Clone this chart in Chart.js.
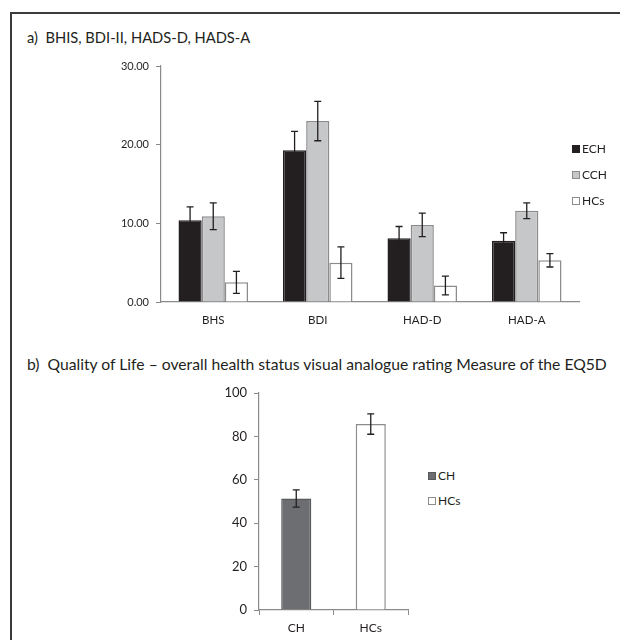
<!DOCTYPE html>
<html>
<head>
<meta charset="utf-8">
<script src="https://cdn.jsdelivr.net/npm/chart.js@4.4.1/dist/chart.umd.min.js"></script>
<style>
    body { margin:0; width:620px; height:640px; overflow:hidden; background:#fff; font-family:Lato, "Liberation Sans", sans-serif; color:#231f20; }
    #frame { position:absolute; left:10px; top:12px; width:700px; height:700px; border:2px solid #3b3b3b; }
    .title { position:absolute; left:27px; white-space:nowrap; line-height:18px; }
    .wrap { position:absolute; }
    .legend { position:absolute; font-size:12px; }
    .lg-row { line-height:14px; white-space:nowrap; }
    .lg-box { display:inline-block; width:6px; height:6px; border:1px solid; margin-right:2px; vertical-align:0px; }
</style>
</head>
<body>
<div id="frame"></div>
<div class="title" id="title_a" style="top:28px; font-size:14.7px;">a)&nbsp; BHIS, BDI-II, HADS-D, HADS-A</div>
<div class="wrap" style="left:100px; top:50px; width:500px; height:280px;"><canvas id="chart_a"></canvas></div>
<div class="legend" id="legend_a" style="left:572px; top:142px;"></div>

<div class="title" id="title_b" style="top:355px; font-size:15.7px;">b)&nbsp; Quality of Life &ndash; overall health status visual analogue rating Measure of the EQ5D</div>
<div class="wrap" style="left:180px; top:375px; width:240px; height:263px;"><canvas id="chart_b"></canvas></div>
<div class="legend" id="legend_b" style="left:428px; top:469px;"></div>

<script>
// a) scale scores
var scaleCats  = [ 'BHS', 'BDI', 'HAD-D', 'HAD-A' ];
var echMeans   = [ 10.4, 19.3, 8.1, 7.8 ];
var echErr     = [ 1.7, 2.4, 1.5, 1.0 ];
var cchMeans   = [ 10.9, 23.0, 9.8, 11.6 ];
var cchErr     = [ 1.7, 2.5, 1.5, 1.0 ];
var hcMeans    = [ 2.5, 5.0, 2.1, 5.3 ];
var hcErr      = [ 1.4, 2.0, 1.2, 0.85 ];
var scaleTicks = [ 0, 10, 20, 30 ];

// b) EQ5D visual analogue rating
var qolCats  = [ 'CH', 'HCs' ];
var qolMeans = [ 51.4, 85.7 ];
var qolErr   = [ 4.0, 4.7 ];
var qolTicks = [ 0, 20, 40, 60, 80, 100 ];

var axisGrey = '#8a8a8a',
    textCol  = '#231f20',
    fontFam  = 'Lato, "Liberation Sans", sans-serif';

// draws mean +/- error whiskers on every bar
var errorBars = {
    id: 'errorBars',
    afterDatasetsDraw: function( chart ){
        var ctx = chart.ctx, y = chart.scales.y;
        chart.data.datasets.forEach( function( ds, di ){
            var meta = chart.getDatasetMeta( di );
            meta.data.forEach( function( bar, i ){
                var v = ds.data[ i ], e = ds.errors[ i ],
                    top = y.getPixelForValue( v + e ),
                    bot = y.getPixelForValue( v - e ),
                    x = bar.x;
                ctx.save();
                ctx.strokeStyle = textCol;
                ctx.lineWidth = 1.3;
                ctx.beginPath();
                ctx.moveTo( x, top ); ctx.lineTo( x, bot );
                ctx.moveTo( x - 3.5, top ); ctx.lineTo( x + 3.5, top );
                ctx.moveTo( x - 3.5, bot ); ctx.lineTo( x + 3.5, bot );
                ctx.stroke();
                ctx.restore();
            } );
        } );
    }
};

function fixedTicks( values ){
    return function( scale ){ scale.ticks = values.map( function( v ){ return { value: v }; } ); };
}

function build_legend( id, items, rowH ){
    var html = '';
    items.forEach( function( it ){
        html += '<div class="lg-row" style="height:'+rowH+'px"><span class="lg-box" style="background:'+it.fill+';border-color:'+it.stroke+'"></span>'+it.text+'</div>';
    } );
    document.getElementById( id ).innerHTML = html;
}

Chart.defaults.font.family = fontFam;
Chart.defaults.color = textCol;

var chartA = new Chart( document.getElementById( 'chart_a' ), {
    type: 'bar',
    data: {
        labels: scaleCats,
        datasets: [
            { label: 'ECH', data: echMeans, errors: echErr, backgroundColor: '#231f20', borderColor: '#231f20', borderWidth: 1.5 },
            { label: 'CCH', data: cchMeans, errors: cchErr, backgroundColor: '#c6c7c8', borderColor: '#8c8c8c', borderWidth: 1.5 },
            { label: 'HCs', data: hcMeans,  errors: hcErr,  backgroundColor: '#ffffff', borderColor: '#8c8c8c', borderWidth: 1.5 }
        ]
    },
    options: {
        responsive: true,
        maintainAspectRatio: false,
        animation: false,
        layout: { padding: { top: 16, right: 21, left: 0, bottom: 0 } },
        datasets: { bar: { barPercentage: 1, categoryPercentage: 0.665 } },
        plugins: { legend: { display: false }, tooltip: { enabled: false } },
        scales: {
            x: {
                grid: { display: true, drawOnChartArea: false, drawTicks: false },
                border: { color: axisGrey, width: 1.2 },
                ticks: { padding: 11, font: { size: 11.5 }, color: textCol },
                afterFit: function( s ){ s.height = 28; }
            },
            y: {
                min: 0, max: 30,
                grid: { drawOnChartArea: false, drawTicks: true, tickLength: 5, color: axisGrey },
                border: { color: axisGrey, width: 1.2 },
                ticks: { padding: 7, font: { size: 11 }, color: textCol, callback: function( v ){ return Number( v ).toFixed( 2 ); } },
                afterBuildTicks: fixedTicks( scaleTicks ),
                afterFit: function( s ){ s.width = 61; }
            }
        }
    },
    plugins: [ errorBars ]
} );

build_legend( 'legend_a', chartA.data.datasets.map( function( ds ){
    return { text: ds.label, fill: ds.backgroundColor, stroke: ds.borderColor };
} ), 26 );

var qolFill   = [ '#6d6e71', '#ffffff' ],
    qolStroke = [ '#58595b', '#8c8c8c' ];

var chartB = new Chart( document.getElementById( 'chart_b' ), {
    type: 'bar',
    data: {
        labels: qolCats,
        datasets: [
            { label: 'EQ5D', data: qolMeans, errors: qolErr, backgroundColor: qolFill, borderColor: qolStroke, borderWidth: 1.5 }
        ]
    },
    options: {
        responsive: true,
        maintainAspectRatio: false,
        animation: false,
        layout: { padding: { top: 18, right: 12, left: 0, bottom: 0 } },
        datasets: { bar: { barPercentage: 1, categoryPercentage: 0.404 } },
        plugins: { legend: { display: false }, tooltip: { enabled: false } },
        scales: {
            x: {
                grid: { display: true, drawOnChartArea: false, drawTicks: true, tickLength: 5, color: axisGrey, offset: true },
                border: { color: axisGrey, width: 1.2 },
                ticks: { padding: 6, font: { size: 12 }, color: textCol },
                afterFit: function( s ){ s.height = 28; }
            },
            y: {
                min: 0, max: 100,
                grid: { drawOnChartArea: false, drawTicks: true, tickLength: 5, color: axisGrey },
                border: { color: axisGrey, width: 1.2 },
                ticks: { padding: 7, font: { size: 13 }, color: textCol },
                afterBuildTicks: fixedTicks( qolTicks ),
                afterFit: function( s ){ s.width = 79; }
            }
        }
    },
    plugins: [ errorBars ]
} );

build_legend( 'legend_b', qolCats.map( function( c, i ){
    return { text: c, fill: qolFill[ i ], stroke: qolStroke[ i ] };
} ), 25 );
</script>
</body>
</html>
